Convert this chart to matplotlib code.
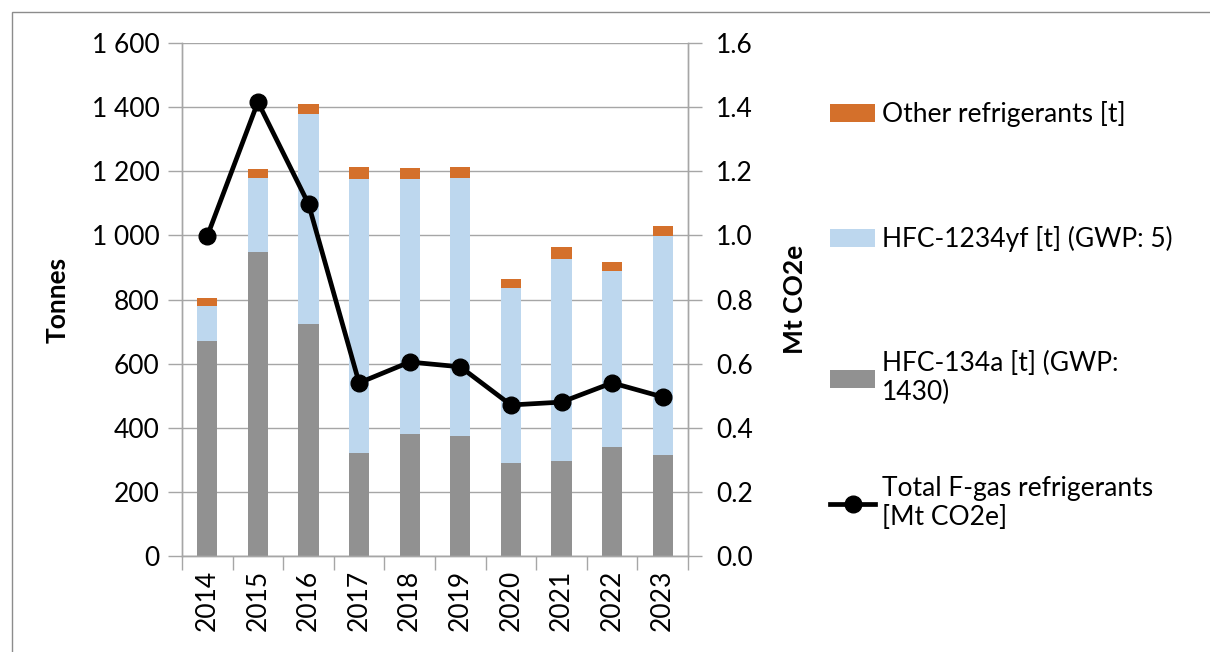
import matplotlib
matplotlib.use("Agg")
import matplotlib.pyplot as plt
import numpy as np
from matplotlib.ticker import FuncFormatter, MultipleLocator, FixedLocator
from matplotlib.patches import Rectangle

# ── data ─────────────────────────────────────────────────────────────────────
years      = ["2014", "2015", "2016", "2017", "2018", "2019", "2020", "2021", "2022", "2023"]
hfc134a    = [670, 948, 724, 321, 380, 374, 290, 296, 340, 315]
hfc1234yf  = [110, 231, 655, 855, 796, 805, 546, 630, 549, 683]
other      = [25, 28, 31, 37, 34, 34, 28, 38, 28, 31]
total_co2e = [0.998, 1.416, 1.098, 0.540, 0.605, 0.590, 0.471, 0.480, 0.540, 0.496]

C_GREY   = "#919191"
C_BLUE   = "#BDD7EE"
C_ORANGE = "#D4702B"
C_GRID   = "#A6A6A6"
FS = 19

plt.rcParams["font.family"] = ["Lato", "DejaVu Sans"]

fig = plt.figure(figsize=(12.1, 6.52), dpi=100)
ax = fig.add_axes([182 / 1210, 1 - 556 / 652, (688 - 182) / 1210, (556 - 43) / 652])
ax2 = ax.twinx()

x = np.arange(len(years))
w = 0.40
b2 = np.array(hfc134a)
b3 = b2 + np.array(hfc1234yf)
ax.bar(x, hfc134a, w, color=C_GREY, label="HFC-134a [t] (GWP:\n1430)", zorder=2)
ax.bar(x, hfc1234yf, w, bottom=b2, color=C_BLUE, label="HFC-1234yf [t] (GWP: 5)", zorder=2)
ax.bar(x, other, w, bottom=b3, color=C_ORANGE, label="Other refrigerants [t]", zorder=2)

ax2.plot(x, total_co2e, color="black", lw=3.4, marker="o", markersize=12,
         label="Total F-gas refrigerants\n[Mt CO2e]")

# ── axes ─────────────────────────────────────────────────────────────────────
ax.set_xlim(-0.5, len(years) - 0.5)
ax.set_ylim(0, 1600)
ax2.set_ylim(0, 1.6)
ax.yaxis.set_major_locator(MultipleLocator(200))
ax2.yaxis.set_major_locator(MultipleLocator(0.2))
ax.yaxis.set_major_formatter(FuncFormatter(lambda v, p: f"{int(v):,}".replace(",", " ")))
ax2.yaxis.set_major_formatter(FuncFormatter(lambda v, p: f"{v:.1f}"))

ax.set_xticks(x)
ax.set_xticklabels(years, rotation=90, fontsize=FS)
ax.xaxis.set_minor_locator(FixedLocator(np.arange(-0.5, len(years), 1.0)))
ax.tick_params(axis="x", which="major", length=0, pad=10)
ax.tick_params(axis="x", which="minor", length=10, width=1, color=C_GRID)
ax.tick_params(axis="y", length=10, width=1, color=C_GRID, labelsize=FS, pad=6)
ax2.tick_params(axis="y", length=10, width=1, color=C_GRID, labelsize=FS, pad=10)

ax.grid(axis="y", color=C_GRID, lw=1, zorder=0)
ax.set_axisbelow(True)
for a in (ax, ax2):
    a.spines["top"].set_visible(False)
    for s in ("left", "right", "bottom"):
        a.spines[s].set_color(C_GRID)
        a.spines[s].set_linewidth(1)

ax.set_ylabel("Tonnes", fontsize=FS, fontweight="bold", labelpad=16)
ax2.set_ylabel("Mt CO2e", fontsize=FS, fontweight="bold", rotation=90, labelpad=22)

# ── legend (bars, then line entry) ───────────────────────────────────────────
h1, l1 = ax.get_legend_handles_labels()
h2, l2 = ax2.get_legend_handles_labels()
leg_kw = dict(loc="upper left", frameon=False, fontsize=FS, handlelength=1.7,
              handleheight=0.7, handletextpad=0.25, borderpad=0)
leg1 = fig.legend(h1[::-1], l1[::-1], bbox_to_anchor=(817 / 1210, 1 - 88 / 652),
                  labelspacing=3.75, **leg_kw)
fig.legend(h2, l2, bbox_to_anchor=(817 / 1210, 1 - 463 / 652), **leg_kw)

# outer frame
fig.patches.append(Rectangle((12 / 1210, -0.05), 1.1, 1 - 12 / 652 + 0.05,
                             transform=fig.transFigure, fill=False,
                             edgecolor="#8C8C8C", lw=1))

fig.savefig("out.png", dpi=100)
